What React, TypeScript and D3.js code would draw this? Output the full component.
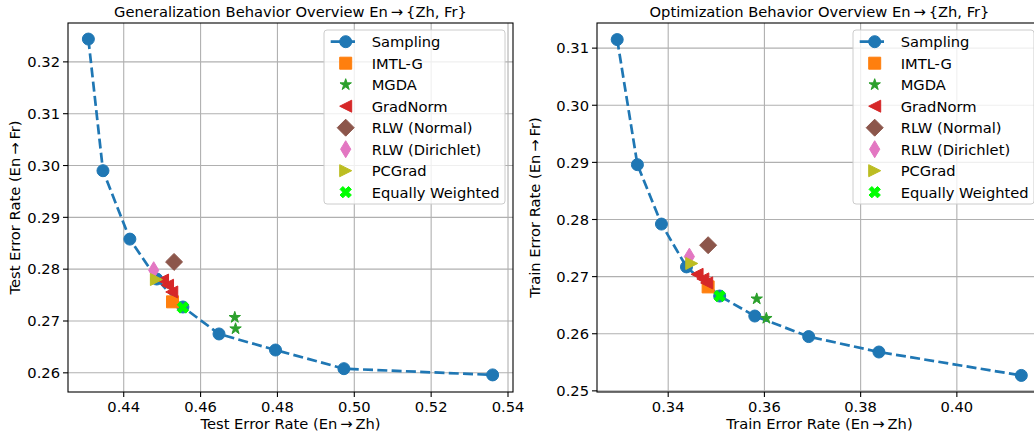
import React from "react";
import * as d3 from "d3";

// ---------- DATA ----------
const genSamplingX = [0.4308, 0.4346, 0.4416, 0.4486, 0.4554, 0.4648, 0.4795, 0.4973, 0.536];
const genSamplingY = [0.3244, 0.299, 0.2858, 0.2781, 0.2727, 0.2675, 0.2644, 0.2608, 0.2596];
const genImtlX = [0.4527];
const genImtlY = [0.2737];
const genMgdaX = [0.4689, 0.4691];
const genMgdaY = [0.2707, 0.2685];
const genGradNormX = [0.4501, 0.4514, 0.4525];
const genGradNormY = [0.2779, 0.2769, 0.2756];
const genRlwNX = [0.4531];
const genRlwNY = [0.2814];
const genRlwDX = [0.4478];
const genRlwDY = [0.2798];
const genPcgX = [0.4485];
const genPcgY = [0.278];
const genEwX = [0.4554];
const genEwY = [0.2726];

const optSamplingX = [0.3294, 0.3336, 0.3386, 0.3438, 0.3507, 0.358, 0.3692, 0.3838, 0.4134];
const optSamplingY = [0.3115, 0.2896, 0.2792, 0.2717, 0.2666, 0.2631, 0.2595, 0.2568, 0.2527];
const optImtlX = [0.3483];
const optImtlY = [0.2682];
const optMgdaX = [0.3584, 0.3604];
const optMgdaY = [0.2661, 0.2627];
const optGradNormX = [0.346, 0.3472, 0.348];
const optGradNormY = [0.2704, 0.2696, 0.2689];
const optRlwNX = [0.3483];
const optRlwNY = [0.2755];
const optRlwDX = [0.3444];
const optRlwDY = [0.2735];
const optPcgX = [0.3449];
const optPcgY = [0.2723];
const optEwX = [0.3507];
const optEwY = [0.2666];

const genXTicks = [0.44, 0.46, 0.48, 0.5, 0.52, 0.54];
const genYTicks = [0.26, 0.27, 0.28, 0.29, 0.3, 0.31, 0.32];
const optXTicks = [0.34, 0.36, 0.38, 0.4];
const optYTicks = [0.25, 0.26, 0.27, 0.28, 0.29, 0.3, 0.31];

const legendLabels = [
  "Sampling",
  "IMTL-G",
  "MGDA",
  "GradNorm",
  "RLW (Normal)",
  "RLW (Dirichlet)",
  "PCGrad",
  "Equally Weighted",
];
const colors = ["#1f77b4", "#ff7f0e", "#2ca02c", "#d62728", "#8c564b", "#e377c2", "#bcbd22", "#00ff00"];
const shapes = ["circle", "square", "star", "tleft", "diamond", "thin", "tright", "xfill"];

// ---------- MARKERS ----------
const MS = 12;
function markerPath(shape: string): string {
  const h = MS / 2;
  switch (shape) {
    case "circle":
      return d3.symbol(d3.symbolCircle, Math.PI * h * h)() as string;
    case "square":
      return `M${-h},${-h}H${h}V${h}H${-h}Z`;
    case "star": {
      const pts: string[] = [];
      const ri = h * 0.381966;
      for (let i = 0; i < 10; i++) {
        const r = i % 2 === 0 ? h : ri;
        const a = (i * Math.PI) / 5 - Math.PI / 2;
        pts.push(`${r * Math.cos(a)},${r * Math.sin(a)}`);
      }
      return "M" + pts.join("L") + "Z";
    }
    case "tleft":
      return `M${-h},0L${h},${-h}L${h},${h}Z`;
    case "tright":
      return `M${h},0L${-h},${-h}L${-h},${h}Z`;
    case "diamond": {
      const d = MS * 0.7071;
      return `M0,${-d}L${d},0L0,${d}L${-d},0Z`;
    }
    case "thin": {
      const d = MS * 0.7071;
      const w = d * 0.6;
      return `M0,${-d}L${w},0L0,${d}L${-w},0Z`;
    }
    case "xfill": {
      const raw = [
        [-1, -3], [1, -3], [1, -1], [3, -1], [3, 1], [1, 1],
        [1, 3], [-1, 3], [-1, 1], [-3, 1], [-3, -1], [-1, -1],
      ];
      const c = Math.cos(Math.PI / 4);
      const pts = raw.map(([x, y]) => {
        const xs = (x / 6) * MS;
        const ys = (y / 6) * MS;
        return `${xs * c - ys * c},${xs * c + ys * c}`;
      });
      return "M" + pts.join("L") + "Z";
    }
  }
  return "";
}

const FONT = "'DejaVu Sans', sans-serif";
const FS = 14.7;

type PanelProps = {
  left: number;
  top: number;
  width: number;
  height: number;
  xDomain: [number, number];
  yDomain: [number, number];
  xTicks: number[];
  yTicks: number[];
  title: string;
  xLabel: string;
  yLabel: string;
  yLabelX: number;
  series: { x: number[]; y: number[] }[];
};

function Panel(p: PanelProps) {
  const x = d3.scaleLinear().domain(p.xDomain).range([p.left, p.left + p.width]);
  const y = d3.scaleLinear().domain(p.yDomain).range([p.top + p.height, p.top]);
  const bottom = p.top + p.height;
  const right = p.left + p.width;
  const samp = p.series[0];
  const line = d3
    .line<number>()
    .x((_, i) => x(samp.x[i]))
    .y((d) => y(d));
  const clipId = "clip" + Math.round(p.left);
  const legW = 181;
  const legX = right - 8 - legW;
  const legY = p.top + 7;
  const rowH = 21.5;
  return (
    <g>
      <defs>
        <clipPath id={clipId}>
          <rect x={p.left} y={p.top} width={p.width} height={p.height} />
        </clipPath>
      </defs>
      {p.xTicks.map((t) => (
        <line key={"gx" + t} x1={x(t)} x2={x(t)} y1={p.top} y2={bottom} stroke="#b0b0b0" strokeWidth={1.1} />
      ))}
      {p.yTicks.map((t) => (
        <line key={"gy" + t} x1={p.left} x2={right} y1={y(t)} y2={y(t)} stroke="#b0b0b0" strokeWidth={1.1} />
      ))}
      <g clipPath={`url(#${clipId})`}>
        <path d={line(samp.y) as string} fill="none" stroke={colors[0]} strokeWidth={2.7} strokeDasharray="10,4.3" />
        {p.series.map((s, si) =>
          s.x.map((vx, i) => (
            <path
              key={si + "-" + i}
              d={markerPath(shapes[si])}
              transform={`translate(${x(vx)},${y(s.y[i])})`}
              fill={colors[si]}
              stroke={colors[si]}
              strokeWidth={1}
            />
          ))
        )}
      </g>
      <rect x={p.left} y={p.top} width={p.width} height={p.height} fill="none" stroke="#000" strokeWidth={1.1} />
      {p.xTicks.map((t) => (
        <g key={"tx" + t}>
          <line x1={x(t)} x2={x(t)} y1={bottom} y2={bottom + 5} stroke="#000" strokeWidth={1.1} />
          <text x={x(t)} y={bottom + 20} textAnchor="middle" fontFamily={FONT} fontSize={FS} fill="#000">
            {t.toFixed(2)}
          </text>
        </g>
      ))}
      {p.yTicks.map((t) => (
        <g key={"ty" + t}>
          <line x1={p.left - 5} x2={p.left} y1={y(t)} y2={y(t)} stroke="#000" strokeWidth={1.1} />
          <text x={p.left - 8} y={y(t) + 5.3} textAnchor="end" fontFamily={FONT} fontSize={FS} fill="#000">
            {t.toFixed(2)}
          </text>
        </g>
      ))}
      <text x={(p.left + right) / 2} y={16.5} textAnchor="middle" fontFamily={FONT} fontSize={FS} fill="#000">
        {p.title}
      </text>
      <text x={(p.left + right) / 2} y={428.5} textAnchor="middle" fontFamily={FONT} fontSize={FS} fill="#000">
        {p.xLabel}
      </text>
      <text
        transform={`translate(${p.yLabelX},${(p.top + bottom) / 2}) rotate(-90)`}
        textAnchor="middle"
        fontFamily={FONT}
        fontSize={FS}
        fill="#000"
      >
        {p.yLabel}
      </text>
      <rect x={legX} y={legY} width={legW} height={174} rx={3} fill="#fff" fillOpacity={0.8} stroke="#cccccc" strokeWidth={1} />
      {legendLabels.map((lab, i) => {
        const cy = legY + 11.7 + i * rowH;
        const mx = legX + 21.7;
        return (
          <g key={"lg" + i}>
            {i === 0 && (
              <line x1={legX + 6.7} x2={legX + 35} y1={cy} y2={cy} stroke={colors[0]} strokeWidth={2.7} strokeDasharray="10,4.3" />
            )}
            <path
              d={markerPath(shapes[i])}
              transform={`translate(${mx},${cy})`}
              fill={colors[i]}
              stroke={colors[i]}
              strokeWidth={1}
            />
            <text x={legX + 47.7} y={cy + 5.3} fontFamily={FONT} fontSize={FS} fill="#000">
              {lab}
            </text>
          </g>
        );
      })}
    </g>
  );
}

export default function App() {
  const genSeries = [
    { x: genSamplingX, y: genSamplingY },
    { x: genImtlX, y: genImtlY },
    { x: genMgdaX, y: genMgdaY },
    { x: genGradNormX, y: genGradNormY },
    { x: genRlwNX, y: genRlwNY },
    { x: genRlwDX, y: genRlwDY },
    { x: genPcgX, y: genPcgY },
    { x: genEwX, y: genEwY },
  ];
  const optSeries = [
    { x: optSamplingX, y: optSamplingY },
    { x: optImtlX, y: optImtlY },
    { x: optMgdaX, y: optMgdaY },
    { x: optGradNormX, y: optGradNormY },
    { x: optRlwNX, y: optRlwNY },
    { x: optRlwDX, y: optRlwDY },
    { x: optPcgX, y: optPcgY },
    { x: optEwX, y: optEwY },
  ];
  const arrow = "\u2009\u2192\u2009";
  return (
    <svg width={1034} height={437} style={{ position: "absolute", left: 0, top: 0, background: "#fff" }}>
      <rect width={1034} height={437} fill="#fff" />
      <Panel
        left={68}
        top={23}
        width={445}
        height={369}
        xDomain={[0.4255, 0.5413]}
        yDomain={[0.2563, 0.3275]}
        xTicks={genXTicks}
        yTicks={genYTicks}
        title={`Generalization Behavior Overview En${arrow}{Zh, Fr}`}
        xLabel={`Test Error Rate (En${arrow}Zh)`}
        yLabel={`Test Error Rate (En${arrow}Fr)`}
        yLabelX={20}
        series={genSeries}
      />
      <Panel
        left={597}
        top={23}
        width={445}
        height={369}
        xDomain={[0.3252, 0.4177]}
        yDomain={[0.2498, 0.3144]}
        xTicks={optXTicks}
        yTicks={optYTicks}
        title={`Optimization Behavior Overview En${arrow}{Zh, Fr}`}
        xLabel={`Train Error Rate (En${arrow}Zh)`}
        yLabel={`Train Error Rate (En${arrow}Fr)`}
        yLabelX={540}
        series={optSeries}
      />
    </svg>
  );
}
